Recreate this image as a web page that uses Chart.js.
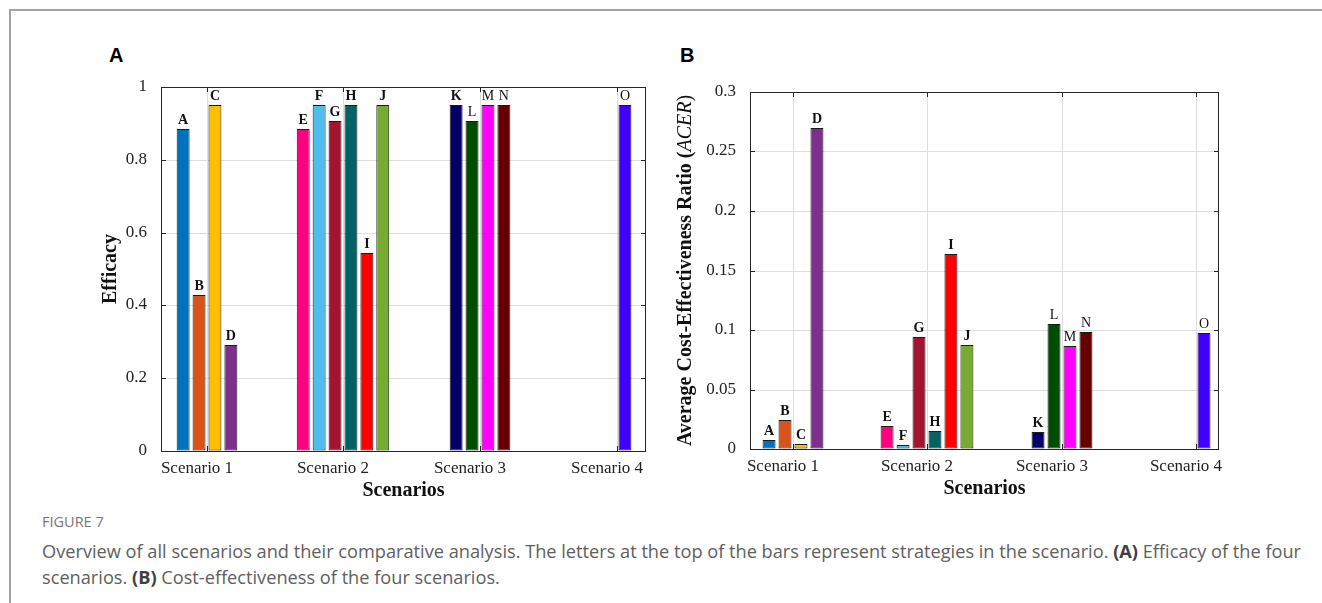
<!DOCTYPE html>
<html>
<head>
<meta charset="utf-8">
<script src="https://cdn.jsdelivr.net/npm/chart.js@4.4.0/dist/chart.umd.min.js"></script>
<style>
html,body{margin:0;padding:0;background:#fff;}
body{width:1322px;height:603px;overflow:hidden;position:relative;}
#frame{position:absolute;left:9px;top:9px;width:1313px;height:594px;border-left:2px solid #a3a3a3;border-top:2px solid #a3a3a3;}
.box{position:absolute;}
.plabel{position:absolute;font-family:'Liberation Sans',Arial,sans-serif;font-weight:bold;font-size:20px;color:#000;line-height:20px;}
#fig{position:absolute;left:42px;top:513px;font-family:'Open Sans',sans-serif;font-size:14.5px;color:#777;line-height:18px;}
#txt{position:absolute;left:42px;top:538px;font-family:'Open Sans',sans-serif;font-size:18.2px;color:#606060;line-height:26px;white-space:nowrap;}
#txt b{color:#404040;}
</style>
</head>
<body>
<div id="frame"></div>
<div class="plabel" style="left:109px;top:45px;">A</div>
<div class="plabel" style="left:680px;top:45px;">B</div>
<div class="box" style="left:95px;top:80px;width:570px;height:425px;"><canvas id="cA" width="570" height="425"></canvas></div>
<div class="box" style="left:660px;top:80px;width:600px;height:425px;"><canvas id="cB" width="600" height="425"></canvas></div>
<div id="fig">FIGURE 7</div>
<div id="txt">Overview of all scenarios and their comparative analysis. The letters at the top of the bars represent strategies in the scenario. <b>(A)</b> Efficacy of the four<br>scenarios. <b>(B)</b> Cost-effectiveness of the four scenarios.</div>
<script>
// ---- data ----
const scenarios = ['Scenario 1', 'Scenario 2', 'Scenario 3', 'Scenario 4'];
const strategies = ['A','B','C','D','E','F','G','H','I','J','K','L','M','N','O'];
const efficacy = [0.884, 0.429, 0.951, 0.292, 0.884, 0.951, 0.906, 0.951, 0.545, 0.951, 0.951, 0.906, 0.951, 0.951, 0.951];
const acer = [0.0076, 0.0246, 0.0042, 0.2697, 0.0190, 0.0031, 0.0941, 0.0154, 0.1639, 0.0874, 0.0146, 0.1050, 0.0866, 0.0980, 0.0972];
const strategyColors = ['#0072BD','#D95319','#FFBF00','#7E2F8E','#FF0080','#4DBEEE','#A2142F','#006363','#FF0000','#77AC30','#000066','#004D00','#FF00FF','#660000','#4000FF'];
// bar order inside each scenario group (six slots, empty slots drawn as nothing)
const scenario1Slots = [null, 'A', 'B', 'C', 'D', null];
const scenario2Slots = ['E', 'F', 'G', 'H', 'I', 'J'];
const scenario3Slots = [null, 'K', 'L', 'M', 'N', null];
const scenario4Slots = [null, null, null, 'O', null, null];
const efficacyTicks = [0, 0.2, 0.4, 0.6, 0.8, 1];
const acerTicks = [0, 0.05, 0.1, 0.15, 0.2, 0.25, 0.3];

const groupSlots = [scenario1Slots, scenario2Slots, scenario3Slots, scenario4Slots];
const thinLetters = ['L','M','N','O'];

function buildDatasets(values) {
  const ds = [];
  for (let s = 0; s < 6; s++) {
    const pts = [], cols = [];
    groupSlots.forEach((slots, g) => {
      const letter = slots[s];
      const k = letter ? strategies.indexOf(letter) : -1;
      pts.push({x: g + 1, y: k >= 0 ? values[k] : null, letter: letter});
      cols.push(k >= 0 ? strategyColors[k] : '#000');
    });
    ds.push({data: pts, backgroundColor: cols, borderColor: '#1a1a1a', borderWidth: 1, borderSkipped: false});
  }
  return ds;
}

const SERIF = "'Liberation Serif','Times New Roman',serif";
const GRID = '#dedede';
const AXIS = '#262626';

const framePlugin = {
  id: 'frame',
  afterDatasetsDraw(chart) {
    const ctx = chart.ctx;
    ctx.save();
    ctx.textAlign = 'center';
    ctx.textBaseline = 'alphabetic';
    ctx.fillStyle = '#111';
    chart.data.datasets.forEach((d, i) => {
      const meta = chart.getDatasetMeta(i);
      meta.data.forEach((el, j) => {
        const p = d.data[j];
        if (!p.letter || p.y === null) return;
        const bold = thinLetters.indexOf(p.letter) < 0;
        ctx.font = (bold ? 'bold ' : '') + '14px ' + SERIF;
        ctx.fillText(p.letter, el.x, el.y - 5);
      });
    });
    ctx.restore();
  },
  afterDraw(chart) {
    const ctx = chart.ctx;
    const {left, top, right, bottom} = chart.chartArea;
    ctx.save();
    ctx.strokeStyle = AXIS;
    ctx.lineWidth = 1;
    ctx.strokeRect(Math.round(left) + 0.5, Math.round(top) + 0.5, Math.round(right - left) - 1, Math.round(bottom - top));
    const tl = 5;
    ctx.beginPath();
    chart.scales.y.ticks.forEach(t => {
      const y = Math.round(chart.scales.y.getPixelForValue(t.value)) + 0.5;
      ctx.moveTo(left, y); ctx.lineTo(left + tl, y);
      ctx.moveTo(right, y); ctx.lineTo(right - tl, y);
    });
    chart.scales.x.ticks.forEach(t => {
      const x = Math.round(chart.scales.x.getPixelForValue(t.value)) + 0.5;
      ctx.moveTo(x, bottom); ctx.lineTo(x, bottom - tl);
      ctx.moveTo(x, top); ctx.lineTo(x, top + tl);
    });
    ctx.stroke();
    ctx.restore();
  }
};

const acerTitlePlugin = {
  id: 'acerTitle',
  afterDraw(chart) {
    if (!chart.options.plugins.acerTitle || !chart.options.plugins.acerTitle.show) return;
    const ctx = chart.ctx;
    const {top, bottom} = chart.chartArea;
    const parts = [
      {t: 'Average Cost-Effectiveness Ratio (', f: 'bold 20px ' + SERIF},
      {t: 'ACER', f: 'italic 20px ' + SERIF},
      {t: ')', f: '20px ' + SERIF}
    ];
    ctx.save();
    let w = 0;
    parts.forEach(p => { ctx.font = p.f; p.w = ctx.measureText(p.t).width; w += p.w; });
    ctx.translate(26, (top + bottom) / 2);
    ctx.rotate(-Math.PI / 2);
    ctx.textBaseline = 'middle';
    ctx.textAlign = 'left';
    ctx.fillStyle = '#111';
    let x = -w / 2;
    parts.forEach(p => { ctx.font = p.f; ctx.fillText(p.t, x, 0); x += p.w; });
    ctx.restore();
  }
};

function makeChart(id, values, yTicks, yMax, cfg) {
  return new Chart(document.getElementById(id), {
    type: 'bar',
    data: {datasets: buildDatasets(values)},
    plugins: [framePlugin, acerTitlePlugin],
    options: {
      responsive: false,
      animation: false,
      devicePixelRatio: 1,
      categoryPercentage: cfg.catPct,
      barPercentage: 0.8125,
      layout: {padding: {left: 0, top: cfg.top, right: cfg.right, bottom: 0}},
      plugins: {legend: {display: false}, tooltip: {enabled: false}, acerTitle: {show: cfg.acer}},
      scales: {
        x: {
          type: 'linear',
          offset: false,
          min: cfg.xmin, max: cfg.xmax,
          alignToPixels: true,
          afterBuildTicks: s => { s.ticks = scenarios.map((_, i) => ({value: i + 1})); },
          afterFit: s => { s.height = cfg.xh; s.paddingLeft = 0; s.paddingRight = 0; },
          grid: {color: GRID, lineWidth: 1, drawTicks: false, offset: false},
          border: {display: false},
          ticks: {
            autoSkip: false, maxRotation: 0, padding: 7, labelOffset: -10, color: '#222',
            font: {family: SERIF, size: 17},
            callback: v => scenarios[Math.round(v) - 1]
          },
          title: {display: true, text: 'Scenarios', color: '#111', font: {family: SERIF, size: 20, weight: 'bold'}, padding: {top: 0, bottom: cfg.xtpad}}
        },
        y: {
          min: 0, max: yMax,
          alignToPixels: true,
          afterBuildTicks: s => { s.ticks = yTicks.map(v => ({value: v})); },
          afterFit: s => { s.width = cfg.yw; s.paddingTop = 0; s.paddingBottom = 0; },
          grid: {color: GRID, lineWidth: 1, drawTicks: false},
          border: {display: false},
          ticks: {padding: 14, color: '#222', font: {family: SERIF, size: 17}, callback: v => String(+v.toFixed(2))},
          title: {display: !cfg.acer, text: 'Efficacy', color: '#111', font: {family: SERIF, size: 20, weight: 'bold'}, padding: {top: 4, bottom: 0}}
        }
      }
    }
  });
}

makeChart('cA', efficacy, efficacyTicks, 1, {catPct: 0.702, top: 7, right: 19, xh: 54, yw: 66, xmin: 0.667, xmax: 4.212, xtpad: 2, acer: false});
makeChart('cB', acer, acerTicks, 0.3, {catPct: 0.715, top: 12, right: 41, xh: 56, yw: 90, xmin: 0.68, xmax: 4.171, xtpad: 4, acer: true});
</script>
</body>
</html>
